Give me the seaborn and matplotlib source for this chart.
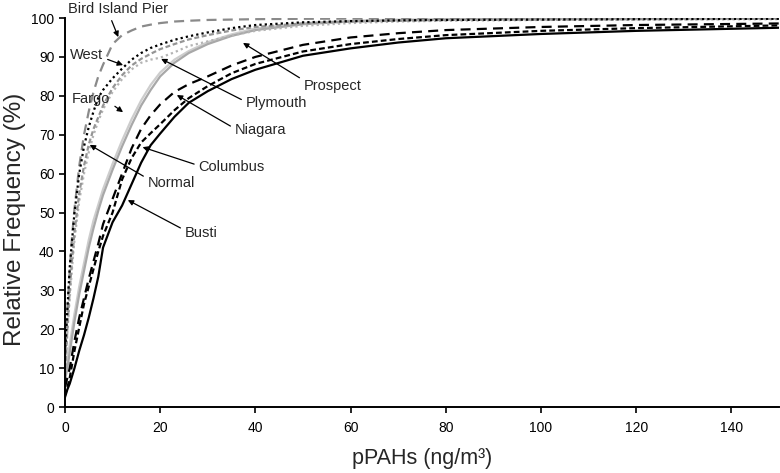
import numpy as np
import pandas as pd
import seaborn as sns
import matplotlib
matplotlib.use("Agg")
import matplotlib.pyplot as plt

# concentration grid (ng/m3) and cumulative frequency (%) read per site
conc = [0, 0.5, 1, 1.5, 2, 3, 4, 5, 6, 7, 8, 10, 12, 14, 16, 18, 20, 23, 26,
        30, 35, 40, 50, 60, 70, 80, 100, 120, 150]

fargo = [9, 12, 16, 20, 24, 31, 37, 43, 48, 52, 56, 62.5, 68.5, 74, 78.8, 82.8,
         86, 89.3, 91.5, 93.8, 95.8, 97.3, 98.7, 99.3, 99.6, 99.7, 99.8, 99.9, 100]
prospect = [7, 10, 14, 18, 22, 29, 35, 41, 46, 50.5, 54.5, 61, 67, 72.5, 77.5,
            81.5, 85, 88.5, 91, 93.3, 95.4, 96.9, 98.4, 99.1, 99.4, 99.6, 99.7,
            99.8, 99.9]
plymouth = [8, 19, 28, 36, 43, 53, 60, 65.5, 70, 73.5, 76.5, 81, 84.3, 86.8,
            88.5, 89.3, 89.8, 91.2, 92.8, 94, 95.5, 96.7, 98, 98.7, 99.1, 99.3,
            99.5, 99.6, 99.7]
normal = [8, 20, 30, 38, 45, 55, 62, 67.5, 71.5, 74.5, 77.5, 82, 85.3, 87.8,
          89.5, 90.8, 92, 93.3, 94.5, 95.6, 96.8, 97.7, 98.6, 99.1, 99.3, 99.5,
          99.6, 99.7, 99.8]
bird = [12, 25, 35, 44, 51, 62, 70, 76, 81, 85, 88, 93.3, 95.6, 96.8, 97.8,
        98.3, 98.7, 99.1, 99.3, 99.5, 99.6, 99.7, 99.8, 99.85, 99.9, 99.9,
        99.95, 100, 100]
west = [14, 25, 36, 43, 50, 60, 67, 72, 76, 79.5, 81.5, 84.5, 87, 89.3, 91,
        92.3, 93.2, 94.4, 95.3, 96.3, 97.4, 98.2, 98.9, 99.2, 99.4, 99.5, 99.6,
        99.7, 99.8]
niagara = [5, 7.5, 10, 13.5, 17, 23, 28, 33, 37.5, 42, 47, 53.5, 60, 66.5,
           71.5, 75, 77.8, 81, 83, 85, 87.8, 90, 93.1, 95, 96.1, 96.9,
           97.7, 98.2, 98.6]
columbus = [3, 5, 7.5, 11, 14.5, 20.5, 26.5, 31, 35.5, 40, 44, 50, 58.5, 64,
            68, 70.4, 72.7, 76.3, 79.4, 82.5, 85.8, 88.2, 91.4, 93.3, 94.6,
            95.6, 96.7, 97.4, 98.1]
busti = [2.5, 4.5, 6, 8, 10, 14.5, 18.5, 23, 28, 33.5, 41, 47.5, 51.8, 57.3,
         62.8, 67.3, 70.3, 74.6, 78.2, 81.2, 84.3, 86.7, 90.3, 92.2, 93.7,
         94.8, 95.9, 96.7, 97.5]

series = [
    ("Fargo", fargo, "#cdcdcd", "-"),
    ("Prospect", prospect, "#a8a8a8", "-"),
    ("Plymouth", plymouth, "#b4b4b4", (0, (1, 1.4))),
    ("Normal", normal, "#959595", (0, (2.2, 1.2))),
    ("Bird Island Pier", bird, "#8a8a8a", (0, (4.5, 2.8))),
    ("West", west, "black", (0, (1, 1.4))),
    ("Niagara", niagara, "black", (0, (4.5, 2.8))),
    ("Columbus", columbus, "black", (0, (2.6, 1.4))),
    ("Busti", busti, "black", "-"),
]

sns.set_style("ticks")
plt.rcParams["font.family"] = ["Liberation Sans", "DejaVu Sans"]

fig = plt.figure(figsize=(7.8, 4.73), dpi=100)
ax = fig.add_axes([0.0833, 0.1395, 0.9154, 0.8224])

for name, vals, col, ls in series:
    df = pd.DataFrame({"conc": conc, "freq": vals})
    sns.lineplot(data=df, x="conc", y="freq", ax=ax, color=col,
                 linewidth=1.6, linestyle=ls, estimator=None, sort=False)

# labels with arrows: (text, text xy, arrow tip, relpos)
notes = [
    ("Bird Island Pier", (0.6, 102.3), (11.2, 95.1), (0.42, 0.0)),
    ("West", (1.05, 90.5), (12.2, 87.9), (1.0, 0.3)),
    ("Fargo", (1.5, 79.2), (12.2, 75.8), (1.0, 0.2)),
    ("Normal", (17.4, 57.6), (5.2, 67.4), (0.0, 0.8)),
    ("Columbus", (28.1, 61.7), (16.3, 66.8), (0.0, 0.6)),
    ("Busti", (25.2, 44.7), (13.2, 53.2), (0.0, 0.7)),
    ("Prospect", (50.2, 82.5), (37.4, 93.6), (0.0, 0.9)),
    ("Plymouth", (38.0, 78.1), (20.2, 89.5), (0.0, 0.6)),
    ("Niagara", (35.7, 71.2), (23.5, 80.2), (0.0, 0.6)),
]
for txt, xyt, tip, rp in notes:
    ax.annotate(txt, xy=tip, xytext=xyt, ha="left", va="center",
                fontsize=10.5, annotation_clip=False,
                arrowprops=dict(arrowstyle="-|>", color="black", lw=0.9,
                                mutation_scale=8, shrinkA=1, shrinkB=0,
                                relpos=rp))

ax.set_xlim(0, 150)
ax.set_ylim(0, 100)
ax.set_xticks(range(0, 151, 20))
ax.set_yticks(range(0, 101, 10))
ax.tick_params(axis="both", labelsize=10, length=4, width=1.2,
               direction="out", color="black", labelcolor="black")
ax.tick_params(axis="x", pad=6)
for s in ["top", "right"]:
    ax.spines[s].set_visible(False)
for s in ["left", "bottom"]:
    ax.spines[s].set_linewidth(1.4)
    ax.spines[s].set_color("black")

ax.set_xlabel("pPAHs (ng/m³)", fontsize=15.5)
ax.xaxis.set_label_coords(0.5, -0.105)
ax.set_ylabel("Relative Frequency (%)", fontsize=17.5)
ax.yaxis.set_label_coords(-0.055, 0.482)

fig.savefig("out.png", dpi=100)
